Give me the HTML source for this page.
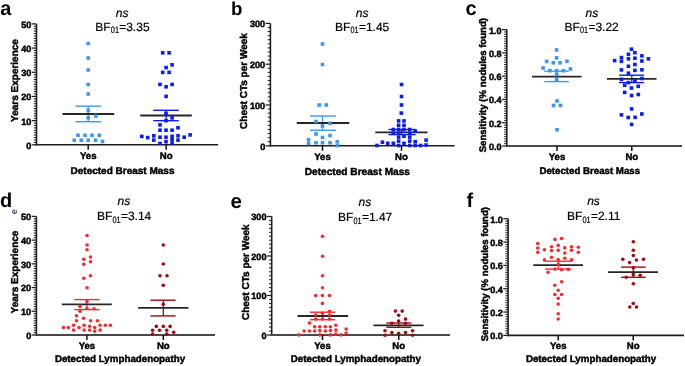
<!DOCTYPE html><html><head><meta charset="utf-8"><style>html,body{margin:0;padding:0;background:#fff;width:685px;height:366px;overflow:hidden}svg{display:block;filter:blur(0.35px)}text{font-family:"Liberation Sans",sans-serif;text-rendering:geometricPrecision;stroke-linejoin:round}</style></head><body>
<svg width="685" height="366" viewBox="0 0 685 366">
<rect width="685" height="366" fill="#fff"/>
<line x1="36.5" y1="23.9" x2="36.5" y2="145.55" stroke="#1e1e1e" stroke-width="1.6"/>
<line x1="35.7" y1="144.8" x2="218.2" y2="144.8" stroke="#1e1e1e" stroke-width="1.6"/>
<line x1="31.7" y1="144.8" x2="36.5" y2="144.8" stroke="#1e1e1e" stroke-width="1.25"/>
<line x1="33.8" y1="142.38" x2="36.5" y2="142.38" stroke="#1e1e1e" stroke-width="1.0"/>
<line x1="33.8" y1="139.96" x2="36.5" y2="139.96" stroke="#1e1e1e" stroke-width="1.0"/>
<line x1="33.8" y1="137.55" x2="36.5" y2="137.55" stroke="#1e1e1e" stroke-width="1.0"/>
<line x1="33.8" y1="135.13" x2="36.5" y2="135.13" stroke="#1e1e1e" stroke-width="1.0"/>
<line x1="33.8" y1="132.71" x2="36.5" y2="132.71" stroke="#1e1e1e" stroke-width="1.0"/>
<line x1="33.8" y1="130.29" x2="36.5" y2="130.29" stroke="#1e1e1e" stroke-width="1.0"/>
<line x1="33.8" y1="127.87" x2="36.5" y2="127.87" stroke="#1e1e1e" stroke-width="1.0"/>
<line x1="33.8" y1="125.46" x2="36.5" y2="125.46" stroke="#1e1e1e" stroke-width="1.0"/>
<line x1="33.8" y1="123.04" x2="36.5" y2="123.04" stroke="#1e1e1e" stroke-width="1.0"/>
<line x1="31.7" y1="120.62" x2="36.5" y2="120.62" stroke="#1e1e1e" stroke-width="1.25"/>
<line x1="33.8" y1="118.2" x2="36.5" y2="118.2" stroke="#1e1e1e" stroke-width="1.0"/>
<line x1="33.8" y1="115.78" x2="36.5" y2="115.78" stroke="#1e1e1e" stroke-width="1.0"/>
<line x1="33.8" y1="113.37" x2="36.5" y2="113.37" stroke="#1e1e1e" stroke-width="1.0"/>
<line x1="33.8" y1="110.95" x2="36.5" y2="110.95" stroke="#1e1e1e" stroke-width="1.0"/>
<line x1="33.8" y1="108.53" x2="36.5" y2="108.53" stroke="#1e1e1e" stroke-width="1.0"/>
<line x1="33.8" y1="106.11" x2="36.5" y2="106.11" stroke="#1e1e1e" stroke-width="1.0"/>
<line x1="33.8" y1="103.69" x2="36.5" y2="103.69" stroke="#1e1e1e" stroke-width="1.0"/>
<line x1="33.8" y1="101.28" x2="36.5" y2="101.28" stroke="#1e1e1e" stroke-width="1.0"/>
<line x1="33.8" y1="98.86" x2="36.5" y2="98.86" stroke="#1e1e1e" stroke-width="1.0"/>
<line x1="31.7" y1="96.44" x2="36.5" y2="96.44" stroke="#1e1e1e" stroke-width="1.25"/>
<line x1="33.8" y1="94.02" x2="36.5" y2="94.02" stroke="#1e1e1e" stroke-width="1.0"/>
<line x1="33.8" y1="91.6" x2="36.5" y2="91.6" stroke="#1e1e1e" stroke-width="1.0"/>
<line x1="33.8" y1="89.19" x2="36.5" y2="89.19" stroke="#1e1e1e" stroke-width="1.0"/>
<line x1="33.8" y1="86.77" x2="36.5" y2="86.77" stroke="#1e1e1e" stroke-width="1.0"/>
<line x1="33.8" y1="84.35" x2="36.5" y2="84.35" stroke="#1e1e1e" stroke-width="1.0"/>
<line x1="33.8" y1="81.93" x2="36.5" y2="81.93" stroke="#1e1e1e" stroke-width="1.0"/>
<line x1="33.8" y1="79.51" x2="36.5" y2="79.51" stroke="#1e1e1e" stroke-width="1.0"/>
<line x1="33.8" y1="77.1" x2="36.5" y2="77.1" stroke="#1e1e1e" stroke-width="1.0"/>
<line x1="33.8" y1="74.68" x2="36.5" y2="74.68" stroke="#1e1e1e" stroke-width="1.0"/>
<line x1="31.7" y1="72.26" x2="36.5" y2="72.26" stroke="#1e1e1e" stroke-width="1.25"/>
<line x1="33.8" y1="69.84" x2="36.5" y2="69.84" stroke="#1e1e1e" stroke-width="1.0"/>
<line x1="33.8" y1="67.42" x2="36.5" y2="67.42" stroke="#1e1e1e" stroke-width="1.0"/>
<line x1="33.8" y1="65.01" x2="36.5" y2="65.01" stroke="#1e1e1e" stroke-width="1.0"/>
<line x1="33.8" y1="62.59" x2="36.5" y2="62.59" stroke="#1e1e1e" stroke-width="1.0"/>
<line x1="33.8" y1="60.17" x2="36.5" y2="60.17" stroke="#1e1e1e" stroke-width="1.0"/>
<line x1="33.8" y1="57.75" x2="36.5" y2="57.75" stroke="#1e1e1e" stroke-width="1.0"/>
<line x1="33.8" y1="55.33" x2="36.5" y2="55.33" stroke="#1e1e1e" stroke-width="1.0"/>
<line x1="33.8" y1="52.92" x2="36.5" y2="52.92" stroke="#1e1e1e" stroke-width="1.0"/>
<line x1="33.8" y1="50.5" x2="36.5" y2="50.5" stroke="#1e1e1e" stroke-width="1.0"/>
<line x1="31.7" y1="48.08" x2="36.5" y2="48.08" stroke="#1e1e1e" stroke-width="1.25"/>
<line x1="33.8" y1="45.66" x2="36.5" y2="45.66" stroke="#1e1e1e" stroke-width="1.0"/>
<line x1="33.8" y1="43.24" x2="36.5" y2="43.24" stroke="#1e1e1e" stroke-width="1.0"/>
<line x1="33.8" y1="40.83" x2="36.5" y2="40.83" stroke="#1e1e1e" stroke-width="1.0"/>
<line x1="33.8" y1="38.41" x2="36.5" y2="38.41" stroke="#1e1e1e" stroke-width="1.0"/>
<line x1="33.8" y1="35.99" x2="36.5" y2="35.99" stroke="#1e1e1e" stroke-width="1.0"/>
<line x1="33.8" y1="33.57" x2="36.5" y2="33.57" stroke="#1e1e1e" stroke-width="1.0"/>
<line x1="33.8" y1="31.15" x2="36.5" y2="31.15" stroke="#1e1e1e" stroke-width="1.0"/>
<line x1="33.8" y1="28.74" x2="36.5" y2="28.74" stroke="#1e1e1e" stroke-width="1.0"/>
<line x1="33.8" y1="26.32" x2="36.5" y2="26.32" stroke="#1e1e1e" stroke-width="1.0"/>
<line x1="31.7" y1="23.9" x2="36.5" y2="23.9" stroke="#1e1e1e" stroke-width="1.25"/>
<text x="31.3" y="148.7" font-size="9.1" font-weight="bold" font-style="normal" text-anchor="end" fill="#000" stroke="#000" stroke-width="0.45" >0</text>
<text x="31.3" y="124.52" font-size="9.1" font-weight="bold" font-style="normal" text-anchor="end" fill="#000" stroke="#000" stroke-width="0.45" >10</text>
<text x="31.3" y="100.34" font-size="9.1" font-weight="bold" font-style="normal" text-anchor="end" fill="#000" stroke="#000" stroke-width="0.45" >20</text>
<text x="31.3" y="76.16" font-size="9.1" font-weight="bold" font-style="normal" text-anchor="end" fill="#000" stroke="#000" stroke-width="0.45" >30</text>
<text x="31.3" y="51.98" font-size="9.1" font-weight="bold" font-style="normal" text-anchor="end" fill="#000" stroke="#000" stroke-width="0.45" >40</text>
<text x="31.3" y="27.8" font-size="9.1" font-weight="bold" font-style="normal" text-anchor="end" fill="#000" stroke="#000" stroke-width="0.45" >50</text>
<line x1="88.2" y1="144.8" x2="88.2" y2="149.8" stroke="#111" stroke-width="1.5"/>
<line x1="166.2" y1="144.8" x2="166.2" y2="149.8" stroke="#111" stroke-width="1.5"/>
<text x="88.2" y="159" font-size="9.6" font-weight="bold" font-style="normal" text-anchor="middle" fill="#000" stroke="#000" stroke-width="0.45" >Yes</text>
<text x="166.2" y="159" font-size="9.6" font-weight="bold" font-style="normal" text-anchor="middle" fill="#000" stroke="#000" stroke-width="0.45" >No</text>
<text x="122.5" y="173.9" font-size="10.0" font-weight="bold" font-style="normal" text-anchor="middle" fill="#000" stroke="#000" stroke-width="0.45" >Detected Breast Mass</text>
<text transform="translate(17.5,80.5) rotate(-90)" font-size="10" font-weight="bold" text-anchor="middle" fill="#000" stroke="#000" stroke-width="0.45">Years Experience</text>
<text x="0.3" y="15.3" font-size="20" font-weight="bold" font-style="normal" text-anchor="start" fill="#000" >a</text>
<text x="122.2" y="16.5" font-size="12" font-weight="normal" font-style="italic" text-anchor="middle" fill="#000" stroke="#000" stroke-width="0.2" >ns</text>
<text x="95.3" y="30.8" font-size="12" font-weight="normal" fill="#000" stroke="#000" stroke-width="0.2">BF</text>
<text transform="translate(110.8,33.4) scale(0.8,1)" font-size="9.2" font-weight="normal" fill="#000" stroke="#000" stroke-width="0.2">01</text>
<text x="119.2" y="30.8" font-size="12" font-weight="normal" fill="#000" stroke="#000" stroke-width="0.2">=3.35</text>
<line x1="88.2" y1="106.15" x2="88.2" y2="121.7" stroke="#3f95f2" stroke-width="1.3"/>
<line x1="75.5" y1="106.15" x2="101" y2="106.15" stroke="#3f95f2" stroke-width="1.4"/>
<line x1="75.5" y1="121.7" x2="101" y2="121.7" stroke="#3f95f2" stroke-width="1.4"/>
<line x1="62.5" y1="114" x2="114.25" y2="114" stroke="#262626" stroke-width="1.8"/>
<line x1="166.2" y1="110.3" x2="166.2" y2="120.7" stroke="#0a1cf5" stroke-width="1.3"/>
<line x1="153.2" y1="110.3" x2="178.7" y2="110.3" stroke="#0a1cf5" stroke-width="1.4"/>
<line x1="153.2" y1="120.7" x2="178.7" y2="120.7" stroke="#0a1cf5" stroke-width="1.4"/>
<line x1="140.2" y1="115.5" x2="191.8" y2="115.5" stroke="#262626" stroke-width="1.8"/>
<rect x="86.4" y="41.7" width="3.6" height="3.6" fill="#3f95f2"/>
<rect x="86.4" y="56.2" width="3.6" height="3.6" fill="#3f95f2"/>
<rect x="86.4" y="68.2" width="3.6" height="3.6" fill="#3f95f2"/>
<rect x="86.4" y="82.7" width="3.6" height="3.6" fill="#3f95f2"/>
<rect x="86.4" y="92.2" width="3.6" height="3.6" fill="#3f95f2"/>
<rect x="86.4" y="108.7" width="3.6" height="3.6" fill="#3f95f2"/>
<rect x="86.4" y="115.95" width="3.6" height="3.6" fill="#3f95f2"/>
<rect x="93.95" y="114.2" width="3.6" height="3.6" fill="#3f95f2"/>
<rect x="76.2" y="133.45" width="3.6" height="3.6" fill="#3f95f2"/>
<rect x="83.2" y="133.45" width="3.6" height="3.6" fill="#3f95f2"/>
<rect x="90.2" y="133.45" width="3.6" height="3.6" fill="#3f95f2"/>
<rect x="97.45" y="133.45" width="3.6" height="3.6" fill="#3f95f2"/>
<rect x="72.45" y="138.45" width="3.6" height="3.6" fill="#3f95f2"/>
<rect x="79.45" y="138.45" width="3.6" height="3.6" fill="#3f95f2"/>
<rect x="86.45" y="138.45" width="3.6" height="3.6" fill="#3f95f2"/>
<rect x="93.7" y="138.45" width="3.6" height="3.6" fill="#3f95f2"/>
<rect x="100.7" y="139.7" width="3.6" height="3.6" fill="#3f95f2"/>
<rect x="160.9" y="51" width="3.6" height="3.6" fill="#0a1cf5"/>
<rect x="167.3" y="51" width="3.6" height="3.6" fill="#0a1cf5"/>
<rect x="170.3" y="63" width="3.6" height="3.6" fill="#0a1cf5"/>
<rect x="164.3" y="65.8" width="3.6" height="3.6" fill="#0a1cf5"/>
<rect x="160.9" y="70.6" width="3.6" height="3.6" fill="#0a1cf5"/>
<rect x="167.3" y="70.6" width="3.6" height="3.6" fill="#0a1cf5"/>
<rect x="158.2" y="82.6" width="3.6" height="3.6" fill="#0a1cf5"/>
<rect x="164.3" y="85" width="3.6" height="3.6" fill="#0a1cf5"/>
<rect x="170.3" y="82.6" width="3.6" height="3.6" fill="#0a1cf5"/>
<rect x="164.3" y="94.6" width="3.6" height="3.6" fill="#0a1cf5"/>
<rect x="164.2" y="111.6" width="3.6" height="3.6" fill="#0a1cf5"/>
<rect x="170.3" y="116.1" width="3.6" height="3.6" fill="#0a1cf5"/>
<rect x="164.2" y="118.9" width="3.6" height="3.6" fill="#0a1cf5"/>
<rect x="158.2" y="123.1" width="3.6" height="3.6" fill="#0a1cf5"/>
<rect x="158.2" y="128.4" width="3.6" height="3.6" fill="#0a1cf5"/>
<rect x="164.2" y="128.4" width="3.6" height="3.6" fill="#0a1cf5"/>
<rect x="170.3" y="128.4" width="3.6" height="3.6" fill="#0a1cf5"/>
<rect x="176.2" y="126" width="3.6" height="3.6" fill="#0a1cf5"/>
<rect x="140" y="134.6" width="3.6" height="3.6" fill="#0a1cf5"/>
<rect x="145.9" y="135.8" width="3.6" height="3.6" fill="#0a1cf5"/>
<rect x="152" y="134" width="3.6" height="3.6" fill="#0a1cf5"/>
<rect x="152" y="138.3" width="3.6" height="3.6" fill="#0a1cf5"/>
<rect x="158.2" y="135.4" width="3.6" height="3.6" fill="#0a1cf5"/>
<rect x="158.2" y="141.6" width="3.6" height="3.6" fill="#0a1cf5"/>
<rect x="164.2" y="135.4" width="3.6" height="3.6" fill="#0a1cf5"/>
<rect x="164.2" y="139.9" width="3.6" height="3.6" fill="#0a1cf5"/>
<rect x="170.3" y="134.5" width="3.6" height="3.6" fill="#0a1cf5"/>
<rect x="170.3" y="137.8" width="3.6" height="3.6" fill="#0a1cf5"/>
<rect x="170.3" y="141.2" width="3.6" height="3.6" fill="#0a1cf5"/>
<rect x="176.2" y="134" width="3.6" height="3.6" fill="#0a1cf5"/>
<rect x="176.2" y="138.3" width="3.6" height="3.6" fill="#0a1cf5"/>
<rect x="182.4" y="135.4" width="3.6" height="3.6" fill="#0a1cf5"/>
<rect x="188.3" y="133.1" width="3.6" height="3.6" fill="#0a1cf5"/>
<line x1="270.4" y1="23.4" x2="270.4" y2="146.55" stroke="#1e1e1e" stroke-width="1.6"/>
<line x1="269.6" y1="145.8" x2="454.6" y2="145.8" stroke="#1e1e1e" stroke-width="1.6"/>
<line x1="265.6" y1="145.8" x2="270.4" y2="145.8" stroke="#1e1e1e" stroke-width="1.25"/>
<line x1="267.7" y1="141.72" x2="270.4" y2="141.72" stroke="#1e1e1e" stroke-width="1.0"/>
<line x1="267.7" y1="137.64" x2="270.4" y2="137.64" stroke="#1e1e1e" stroke-width="1.0"/>
<line x1="267.7" y1="133.56" x2="270.4" y2="133.56" stroke="#1e1e1e" stroke-width="1.0"/>
<line x1="267.7" y1="129.48" x2="270.4" y2="129.48" stroke="#1e1e1e" stroke-width="1.0"/>
<line x1="267.7" y1="125.4" x2="270.4" y2="125.4" stroke="#1e1e1e" stroke-width="1.0"/>
<line x1="267.7" y1="121.32" x2="270.4" y2="121.32" stroke="#1e1e1e" stroke-width="1.0"/>
<line x1="267.7" y1="117.24" x2="270.4" y2="117.24" stroke="#1e1e1e" stroke-width="1.0"/>
<line x1="267.7" y1="113.16" x2="270.4" y2="113.16" stroke="#1e1e1e" stroke-width="1.0"/>
<line x1="267.7" y1="109.08" x2="270.4" y2="109.08" stroke="#1e1e1e" stroke-width="1.0"/>
<line x1="265.6" y1="105" x2="270.4" y2="105" stroke="#1e1e1e" stroke-width="1.25"/>
<line x1="267.7" y1="100.92" x2="270.4" y2="100.92" stroke="#1e1e1e" stroke-width="1.0"/>
<line x1="267.7" y1="96.84" x2="270.4" y2="96.84" stroke="#1e1e1e" stroke-width="1.0"/>
<line x1="267.7" y1="92.76" x2="270.4" y2="92.76" stroke="#1e1e1e" stroke-width="1.0"/>
<line x1="267.7" y1="88.68" x2="270.4" y2="88.68" stroke="#1e1e1e" stroke-width="1.0"/>
<line x1="267.7" y1="84.6" x2="270.4" y2="84.6" stroke="#1e1e1e" stroke-width="1.0"/>
<line x1="267.7" y1="80.52" x2="270.4" y2="80.52" stroke="#1e1e1e" stroke-width="1.0"/>
<line x1="267.7" y1="76.44" x2="270.4" y2="76.44" stroke="#1e1e1e" stroke-width="1.0"/>
<line x1="267.7" y1="72.36" x2="270.4" y2="72.36" stroke="#1e1e1e" stroke-width="1.0"/>
<line x1="267.7" y1="68.28" x2="270.4" y2="68.28" stroke="#1e1e1e" stroke-width="1.0"/>
<line x1="265.6" y1="64.2" x2="270.4" y2="64.2" stroke="#1e1e1e" stroke-width="1.25"/>
<line x1="267.7" y1="60.12" x2="270.4" y2="60.12" stroke="#1e1e1e" stroke-width="1.0"/>
<line x1="267.7" y1="56.04" x2="270.4" y2="56.04" stroke="#1e1e1e" stroke-width="1.0"/>
<line x1="267.7" y1="51.96" x2="270.4" y2="51.96" stroke="#1e1e1e" stroke-width="1.0"/>
<line x1="267.7" y1="47.88" x2="270.4" y2="47.88" stroke="#1e1e1e" stroke-width="1.0"/>
<line x1="267.7" y1="43.8" x2="270.4" y2="43.8" stroke="#1e1e1e" stroke-width="1.0"/>
<line x1="267.7" y1="39.72" x2="270.4" y2="39.72" stroke="#1e1e1e" stroke-width="1.0"/>
<line x1="267.7" y1="35.64" x2="270.4" y2="35.64" stroke="#1e1e1e" stroke-width="1.0"/>
<line x1="267.7" y1="31.56" x2="270.4" y2="31.56" stroke="#1e1e1e" stroke-width="1.0"/>
<line x1="267.7" y1="27.48" x2="270.4" y2="27.48" stroke="#1e1e1e" stroke-width="1.0"/>
<line x1="265.6" y1="23.4" x2="270.4" y2="23.4" stroke="#1e1e1e" stroke-width="1.25"/>
<text x="265.2" y="149.7" font-size="9.1" font-weight="bold" font-style="normal" text-anchor="end" fill="#000" stroke="#000" stroke-width="0.45" >0</text>
<text x="265.2" y="108.9" font-size="9.1" font-weight="bold" font-style="normal" text-anchor="end" fill="#000" stroke="#000" stroke-width="0.45" >100</text>
<text x="265.2" y="68.1" font-size="9.1" font-weight="bold" font-style="normal" text-anchor="end" fill="#000" stroke="#000" stroke-width="0.45" >200</text>
<text x="265.2" y="27.3" font-size="9.1" font-weight="bold" font-style="normal" text-anchor="end" fill="#000" stroke="#000" stroke-width="0.45" >300</text>
<line x1="322.5" y1="145.8" x2="322.5" y2="150.8" stroke="#111" stroke-width="1.5"/>
<line x1="401.5" y1="145.8" x2="401.5" y2="150.8" stroke="#111" stroke-width="1.5"/>
<text x="322.5" y="160" font-size="9.6" font-weight="bold" font-style="normal" text-anchor="middle" fill="#000" stroke="#000" stroke-width="0.45" >Yes</text>
<text x="401.5" y="160" font-size="9.6" font-weight="bold" font-style="normal" text-anchor="middle" fill="#000" stroke="#000" stroke-width="0.45" >No</text>
<text x="357.4" y="174.6" font-size="10.15" font-weight="bold" font-style="normal" text-anchor="middle" fill="#000" stroke="#000" stroke-width="0.45" >Detected Breast Mass</text>
<text transform="translate(246.5,81) rotate(-90)" font-size="10" font-weight="bold" text-anchor="middle" fill="#000" stroke="#000" stroke-width="0.45">Chest CTs per Week</text>
<text x="230.9" y="14.6" font-size="18.7" font-weight="bold" font-style="normal" text-anchor="start" fill="#000" >b</text>
<text x="362.2" y="16.5" font-size="12" font-weight="normal" font-style="italic" text-anchor="middle" fill="#000" stroke="#000" stroke-width="0.2" >ns</text>
<text x="335" y="30.8" font-size="12" font-weight="normal" fill="#000" stroke="#000" stroke-width="0.2">BF</text>
<text transform="translate(350.5,33.4) scale(0.8,1)" font-size="9.2" font-weight="normal" fill="#000" stroke="#000" stroke-width="0.2">01</text>
<text x="358.9" y="30.8" font-size="12" font-weight="normal" fill="#000" stroke="#000" stroke-width="0.2">=1.45</text>
<line x1="322.5" y1="116" x2="322.5" y2="130.25" stroke="#3f95f2" stroke-width="1.3"/>
<line x1="310" y1="116" x2="336" y2="116" stroke="#3f95f2" stroke-width="1.4"/>
<line x1="310" y1="130.25" x2="336" y2="130.25" stroke="#3f95f2" stroke-width="1.4"/>
<line x1="296.75" y1="123" x2="349.25" y2="123" stroke="#262626" stroke-width="1.8"/>
<line x1="401.5" y1="129.5" x2="401.5" y2="134.6" stroke="#0a1cf5" stroke-width="1.3"/>
<line x1="388.4" y1="129.5" x2="415.7" y2="129.5" stroke="#0a1cf5" stroke-width="1.4"/>
<line x1="388.4" y1="134.6" x2="415.7" y2="134.6" stroke="#0a1cf5" stroke-width="1.4"/>
<line x1="375.3" y1="132.4" x2="427.5" y2="132.4" stroke="#262626" stroke-width="1.8"/>
<rect x="320.7" y="42.2" width="3.6" height="3.6" fill="#3f95f2"/>
<rect x="320.7" y="62.7" width="3.6" height="3.6" fill="#3f95f2"/>
<rect x="317.45" y="103.2" width="3.6" height="3.6" fill="#3f95f2"/>
<rect x="324.45" y="103.2" width="3.6" height="3.6" fill="#3f95f2"/>
<rect x="314.2" y="119.7" width="3.6" height="3.6" fill="#3f95f2"/>
<rect x="328.2" y="121.45" width="3.6" height="3.6" fill="#3f95f2"/>
<rect x="320.7" y="124.2" width="3.6" height="3.6" fill="#3f95f2"/>
<rect x="314.2" y="132.2" width="3.6" height="3.6" fill="#3f95f2"/>
<rect x="328.2" y="133.7" width="3.6" height="3.6" fill="#3f95f2"/>
<rect x="320.7" y="135.7" width="3.6" height="3.6" fill="#3f95f2"/>
<rect x="306.7" y="137.95" width="3.6" height="3.6" fill="#3f95f2"/>
<rect x="335.45" y="139.95" width="3.6" height="3.6" fill="#3f95f2"/>
<rect x="306.7" y="141.7" width="3.6" height="3.6" fill="#3f95f2"/>
<rect x="314.2" y="140.95" width="3.6" height="3.6" fill="#3f95f2"/>
<rect x="320.7" y="140.95" width="3.6" height="3.6" fill="#3f95f2"/>
<rect x="328.2" y="140.95" width="3.6" height="3.6" fill="#3f95f2"/>
<rect x="335.45" y="143.7" width="3.6" height="3.6" fill="#3f95f2"/>
<rect x="399.7" y="82.7" width="3.6" height="3.6" fill="#0a1cf5"/>
<rect x="399.7" y="94.7" width="3.6" height="3.6" fill="#0a1cf5"/>
<rect x="399.7" y="103.2" width="3.6" height="3.6" fill="#0a1cf5"/>
<rect x="399.5" y="111.3" width="3.6" height="3.6" fill="#0a1cf5"/>
<rect x="396.8" y="119.1" width="3.6" height="3.6" fill="#0a1cf5"/>
<rect x="402.2" y="119.1" width="3.6" height="3.6" fill="#0a1cf5"/>
<rect x="396.8" y="123.5" width="3.6" height="3.6" fill="#0a1cf5"/>
<rect x="402.2" y="123.5" width="3.6" height="3.6" fill="#0a1cf5"/>
<rect x="391.5" y="127.7" width="3.6" height="3.6" fill="#0a1cf5"/>
<rect x="396.8" y="127.7" width="3.6" height="3.6" fill="#0a1cf5"/>
<rect x="402.2" y="127.7" width="3.6" height="3.6" fill="#0a1cf5"/>
<rect x="407.9" y="127.7" width="3.6" height="3.6" fill="#0a1cf5"/>
<rect x="413.4" y="129.2" width="3.6" height="3.6" fill="#0a1cf5"/>
<rect x="391.5" y="131.4" width="3.6" height="3.6" fill="#0a1cf5"/>
<rect x="396.8" y="131.4" width="3.6" height="3.6" fill="#0a1cf5"/>
<rect x="407.9" y="131.4" width="3.6" height="3.6" fill="#0a1cf5"/>
<rect x="402.2" y="134.4" width="3.6" height="3.6" fill="#0a1cf5"/>
<rect x="396.8" y="135.3" width="3.6" height="3.6" fill="#0a1cf5"/>
<rect x="407.9" y="135.3" width="3.6" height="3.6" fill="#0a1cf5"/>
<rect x="380.6" y="140.4" width="3.6" height="3.6" fill="#0a1cf5"/>
<rect x="386" y="141.5" width="3.6" height="3.6" fill="#0a1cf5"/>
<rect x="391.5" y="141.5" width="3.6" height="3.6" fill="#0a1cf5"/>
<rect x="396.8" y="139.3" width="3.6" height="3.6" fill="#0a1cf5"/>
<rect x="407.9" y="139.3" width="3.6" height="3.6" fill="#0a1cf5"/>
<rect x="413.4" y="139.9" width="3.6" height="3.6" fill="#0a1cf5"/>
<rect x="424.3" y="138.3" width="3.6" height="3.6" fill="#0a1cf5"/>
<rect x="375.1" y="143.7" width="3.6" height="3.6" fill="#0a1cf5"/>
<rect x="396.8" y="143.7" width="3.6" height="3.6" fill="#0a1cf5"/>
<rect x="402.2" y="141.5" width="3.6" height="3.6" fill="#0a1cf5"/>
<rect x="407.9" y="143.7" width="3.6" height="3.6" fill="#0a1cf5"/>
<rect x="413.4" y="143.7" width="3.6" height="3.6" fill="#0a1cf5"/>
<rect x="418.8" y="143.7" width="3.6" height="3.6" fill="#0a1cf5"/>
<rect x="424.3" y="143.2" width="3.6" height="3.6" fill="#0a1cf5"/>
<line x1="506.8" y1="29.6" x2="506.8" y2="146.75" stroke="#1e1e1e" stroke-width="1.6"/>
<line x1="506" y1="146" x2="682" y2="146" stroke="#4a4a4a" stroke-width="1.9"/>
<line x1="502" y1="146" x2="506.8" y2="146" stroke="#1e1e1e" stroke-width="1.25"/>
<line x1="504.1" y1="143.67" x2="506.8" y2="143.67" stroke="#1e1e1e" stroke-width="1.0"/>
<line x1="504.1" y1="141.34" x2="506.8" y2="141.34" stroke="#1e1e1e" stroke-width="1.0"/>
<line x1="504.1" y1="139.02" x2="506.8" y2="139.02" stroke="#1e1e1e" stroke-width="1.0"/>
<line x1="504.1" y1="136.69" x2="506.8" y2="136.69" stroke="#1e1e1e" stroke-width="1.0"/>
<line x1="504.1" y1="134.36" x2="506.8" y2="134.36" stroke="#1e1e1e" stroke-width="1.0"/>
<line x1="504.1" y1="132.03" x2="506.8" y2="132.03" stroke="#1e1e1e" stroke-width="1.0"/>
<line x1="504.1" y1="129.7" x2="506.8" y2="129.7" stroke="#1e1e1e" stroke-width="1.0"/>
<line x1="504.1" y1="127.38" x2="506.8" y2="127.38" stroke="#1e1e1e" stroke-width="1.0"/>
<line x1="504.1" y1="125.05" x2="506.8" y2="125.05" stroke="#1e1e1e" stroke-width="1.0"/>
<line x1="502" y1="122.72" x2="506.8" y2="122.72" stroke="#1e1e1e" stroke-width="1.25"/>
<line x1="504.1" y1="120.39" x2="506.8" y2="120.39" stroke="#1e1e1e" stroke-width="1.0"/>
<line x1="504.1" y1="118.06" x2="506.8" y2="118.06" stroke="#1e1e1e" stroke-width="1.0"/>
<line x1="504.1" y1="115.74" x2="506.8" y2="115.74" stroke="#1e1e1e" stroke-width="1.0"/>
<line x1="504.1" y1="113.41" x2="506.8" y2="113.41" stroke="#1e1e1e" stroke-width="1.0"/>
<line x1="504.1" y1="111.08" x2="506.8" y2="111.08" stroke="#1e1e1e" stroke-width="1.0"/>
<line x1="504.1" y1="108.75" x2="506.8" y2="108.75" stroke="#1e1e1e" stroke-width="1.0"/>
<line x1="504.1" y1="106.42" x2="506.8" y2="106.42" stroke="#1e1e1e" stroke-width="1.0"/>
<line x1="504.1" y1="104.1" x2="506.8" y2="104.1" stroke="#1e1e1e" stroke-width="1.0"/>
<line x1="504.1" y1="101.77" x2="506.8" y2="101.77" stroke="#1e1e1e" stroke-width="1.0"/>
<line x1="502" y1="99.44" x2="506.8" y2="99.44" stroke="#1e1e1e" stroke-width="1.25"/>
<line x1="504.1" y1="97.11" x2="506.8" y2="97.11" stroke="#1e1e1e" stroke-width="1.0"/>
<line x1="504.1" y1="94.78" x2="506.8" y2="94.78" stroke="#1e1e1e" stroke-width="1.0"/>
<line x1="504.1" y1="92.46" x2="506.8" y2="92.46" stroke="#1e1e1e" stroke-width="1.0"/>
<line x1="504.1" y1="90.13" x2="506.8" y2="90.13" stroke="#1e1e1e" stroke-width="1.0"/>
<line x1="504.1" y1="87.8" x2="506.8" y2="87.8" stroke="#1e1e1e" stroke-width="1.0"/>
<line x1="504.1" y1="85.47" x2="506.8" y2="85.47" stroke="#1e1e1e" stroke-width="1.0"/>
<line x1="504.1" y1="83.14" x2="506.8" y2="83.14" stroke="#1e1e1e" stroke-width="1.0"/>
<line x1="504.1" y1="80.82" x2="506.8" y2="80.82" stroke="#1e1e1e" stroke-width="1.0"/>
<line x1="504.1" y1="78.49" x2="506.8" y2="78.49" stroke="#1e1e1e" stroke-width="1.0"/>
<line x1="502" y1="76.16" x2="506.8" y2="76.16" stroke="#1e1e1e" stroke-width="1.25"/>
<line x1="504.1" y1="73.83" x2="506.8" y2="73.83" stroke="#1e1e1e" stroke-width="1.0"/>
<line x1="504.1" y1="71.5" x2="506.8" y2="71.5" stroke="#1e1e1e" stroke-width="1.0"/>
<line x1="504.1" y1="69.18" x2="506.8" y2="69.18" stroke="#1e1e1e" stroke-width="1.0"/>
<line x1="504.1" y1="66.85" x2="506.8" y2="66.85" stroke="#1e1e1e" stroke-width="1.0"/>
<line x1="504.1" y1="64.52" x2="506.8" y2="64.52" stroke="#1e1e1e" stroke-width="1.0"/>
<line x1="504.1" y1="62.19" x2="506.8" y2="62.19" stroke="#1e1e1e" stroke-width="1.0"/>
<line x1="504.1" y1="59.86" x2="506.8" y2="59.86" stroke="#1e1e1e" stroke-width="1.0"/>
<line x1="504.1" y1="57.54" x2="506.8" y2="57.54" stroke="#1e1e1e" stroke-width="1.0"/>
<line x1="504.1" y1="55.21" x2="506.8" y2="55.21" stroke="#1e1e1e" stroke-width="1.0"/>
<line x1="502" y1="52.88" x2="506.8" y2="52.88" stroke="#1e1e1e" stroke-width="1.25"/>
<line x1="504.1" y1="50.55" x2="506.8" y2="50.55" stroke="#1e1e1e" stroke-width="1.0"/>
<line x1="504.1" y1="48.22" x2="506.8" y2="48.22" stroke="#1e1e1e" stroke-width="1.0"/>
<line x1="504.1" y1="45.9" x2="506.8" y2="45.9" stroke="#1e1e1e" stroke-width="1.0"/>
<line x1="504.1" y1="43.57" x2="506.8" y2="43.57" stroke="#1e1e1e" stroke-width="1.0"/>
<line x1="504.1" y1="41.24" x2="506.8" y2="41.24" stroke="#1e1e1e" stroke-width="1.0"/>
<line x1="504.1" y1="38.91" x2="506.8" y2="38.91" stroke="#1e1e1e" stroke-width="1.0"/>
<line x1="504.1" y1="36.58" x2="506.8" y2="36.58" stroke="#1e1e1e" stroke-width="1.0"/>
<line x1="504.1" y1="34.26" x2="506.8" y2="34.26" stroke="#1e1e1e" stroke-width="1.0"/>
<line x1="504.1" y1="31.93" x2="506.8" y2="31.93" stroke="#1e1e1e" stroke-width="1.0"/>
<line x1="502" y1="29.6" x2="506.8" y2="29.6" stroke="#1e1e1e" stroke-width="1.25"/>
<text x="501.6" y="149.9" font-size="9.1" font-weight="bold" font-style="normal" text-anchor="end" fill="#000" stroke="#000" stroke-width="0.45" >0.0</text>
<text x="501.6" y="126.62" font-size="9.1" font-weight="bold" font-style="normal" text-anchor="end" fill="#000" stroke="#000" stroke-width="0.45" >0.2</text>
<text x="501.6" y="103.34" font-size="9.1" font-weight="bold" font-style="normal" text-anchor="end" fill="#000" stroke="#000" stroke-width="0.45" >0.4</text>
<text x="501.6" y="80.06" font-size="9.1" font-weight="bold" font-style="normal" text-anchor="end" fill="#000" stroke="#000" stroke-width="0.45" >0.6</text>
<text x="501.6" y="56.78" font-size="9.1" font-weight="bold" font-style="normal" text-anchor="end" fill="#000" stroke="#000" stroke-width="0.45" >0.8</text>
<text x="501.6" y="33.5" font-size="9.1" font-weight="bold" font-style="normal" text-anchor="end" fill="#000" stroke="#000" stroke-width="0.45" >1.0</text>
<line x1="557" y1="146" x2="557" y2="151" stroke="#111" stroke-width="1.5"/>
<line x1="631.8" y1="146" x2="631.8" y2="151" stroke="#111" stroke-width="1.5"/>
<text x="557" y="160" font-size="9.6" font-weight="bold" font-style="normal" text-anchor="middle" fill="#000" stroke="#000" stroke-width="0.45" >Yes</text>
<text x="631.8" y="160" font-size="9.6" font-weight="bold" font-style="normal" text-anchor="middle" fill="#000" stroke="#000" stroke-width="0.45" >No</text>
<text x="589.75" y="173.9" font-size="9.7" font-weight="bold" font-style="normal" text-anchor="middle" fill="#000" stroke="#000" stroke-width="0.45" >Detected Breast Mass</text>
<text transform="translate(486.2,85.2) rotate(-90)" font-size="9.6" font-weight="bold" text-anchor="middle" fill="#000" stroke="#000" stroke-width="0.45">Sensitivity (% nodules found)</text>
<text x="465.5" y="15.2" font-size="20" font-weight="bold" font-style="normal" text-anchor="start" fill="#000" >c</text>
<text x="591.8" y="16.5" font-size="12" font-weight="normal" font-style="italic" text-anchor="middle" fill="#000" stroke="#000" stroke-width="0.2" >ns</text>
<text x="564.5" y="30.8" font-size="12" font-weight="normal" fill="#000" stroke="#000" stroke-width="0.2">BF</text>
<text transform="translate(580,33.4) scale(0.8,1)" font-size="9.2" font-weight="normal" fill="#000" stroke="#000" stroke-width="0.2">01</text>
<text x="588.4" y="30.8" font-size="12" font-weight="normal" fill="#000" stroke="#000" stroke-width="0.2">=3.22</text>
<line x1="557" y1="71.2" x2="557" y2="81.6" stroke="#3f95f2" stroke-width="1.3"/>
<line x1="544.2" y1="71.2" x2="568.8" y2="71.2" stroke="#3f95f2" stroke-width="1.4"/>
<line x1="544.2" y1="81.6" x2="568.8" y2="81.6" stroke="#3f95f2" stroke-width="1.4"/>
<line x1="532" y1="76.7" x2="581.6" y2="76.7" stroke="#262626" stroke-width="1.8"/>
<line x1="631.8" y1="75.2" x2="631.8" y2="82.6" stroke="#0a1cf5" stroke-width="1.3"/>
<line x1="619" y1="75.2" x2="644" y2="75.2" stroke="#0a1cf5" stroke-width="1.4"/>
<line x1="619" y1="82.6" x2="644" y2="82.6" stroke="#0a1cf5" stroke-width="1.4"/>
<line x1="607" y1="78.9" x2="656.5" y2="78.9" stroke="#262626" stroke-width="1.8"/>
<rect x="554.8" y="48.1" width="3.6" height="3.6" fill="#3f95f2"/>
<rect x="554.8" y="56" width="3.6" height="3.6" fill="#3f95f2"/>
<rect x="544.8" y="59.6" width="3.6" height="3.6" fill="#3f95f2"/>
<rect x="551.5" y="61" width="3.6" height="3.6" fill="#3f95f2"/>
<rect x="558.3" y="61" width="3.6" height="3.6" fill="#3f95f2"/>
<rect x="565.1" y="59.4" width="3.6" height="3.6" fill="#3f95f2"/>
<rect x="541.3" y="66.2" width="3.6" height="3.6" fill="#3f95f2"/>
<rect x="568.6" y="67.2" width="3.6" height="3.6" fill="#3f95f2"/>
<rect x="548.1" y="68.9" width="3.6" height="3.6" fill="#3f95f2"/>
<rect x="554.8" y="68.9" width="3.6" height="3.6" fill="#3f95f2"/>
<rect x="561.5" y="68.9" width="3.6" height="3.6" fill="#3f95f2"/>
<rect x="554.8" y="72.7" width="3.6" height="3.6" fill="#3f95f2"/>
<rect x="554.8" y="78" width="3.6" height="3.6" fill="#3f95f2"/>
<rect x="555.2" y="99.2" width="3.6" height="3.6" fill="#3f95f2"/>
<rect x="551.7" y="103.7" width="3.6" height="3.6" fill="#3f95f2"/>
<rect x="558.7" y="103.7" width="3.6" height="3.6" fill="#3f95f2"/>
<rect x="555.2" y="127.95" width="3.6" height="3.6" fill="#3f95f2"/>
<rect x="629.6" y="47.4" width="3.6" height="3.6" fill="#0a1cf5"/>
<rect x="633.1" y="50.9" width="3.6" height="3.6" fill="#0a1cf5"/>
<rect x="626.6" y="52.5" width="3.6" height="3.6" fill="#0a1cf5"/>
<rect x="640.1" y="54.1" width="3.6" height="3.6" fill="#0a1cf5"/>
<rect x="619.6" y="55.8" width="3.6" height="3.6" fill="#0a1cf5"/>
<rect x="633.1" y="56.4" width="3.6" height="3.6" fill="#0a1cf5"/>
<rect x="626.6" y="57" width="3.6" height="3.6" fill="#0a1cf5"/>
<rect x="646.6" y="57" width="3.6" height="3.6" fill="#0a1cf5"/>
<rect x="612.8" y="58.8" width="3.6" height="3.6" fill="#0a1cf5"/>
<rect x="640.1" y="59.2" width="3.6" height="3.6" fill="#0a1cf5"/>
<rect x="619.6" y="59.5" width="3.6" height="3.6" fill="#0a1cf5"/>
<rect x="633.1" y="62.7" width="3.6" height="3.6" fill="#0a1cf5"/>
<rect x="626.6" y="64.5" width="3.6" height="3.6" fill="#0a1cf5"/>
<rect x="619.6" y="68.1" width="3.6" height="3.6" fill="#0a1cf5"/>
<rect x="633.1" y="68.6" width="3.6" height="3.6" fill="#0a1cf5"/>
<rect x="640.1" y="68" width="3.6" height="3.6" fill="#0a1cf5"/>
<rect x="626.6" y="71.4" width="3.6" height="3.6" fill="#0a1cf5"/>
<rect x="619.6" y="77.5" width="3.6" height="3.6" fill="#0a1cf5"/>
<rect x="633.1" y="78.8" width="3.6" height="3.6" fill="#0a1cf5"/>
<rect x="640.1" y="76.7" width="3.6" height="3.6" fill="#0a1cf5"/>
<rect x="626.6" y="80.8" width="3.6" height="3.6" fill="#0a1cf5"/>
<rect x="622.9" y="83.5" width="3.6" height="3.6" fill="#0a1cf5"/>
<rect x="629.6" y="86.2" width="3.6" height="3.6" fill="#0a1cf5"/>
<rect x="636.4" y="84.5" width="3.6" height="3.6" fill="#0a1cf5"/>
<rect x="622.9" y="90.6" width="3.6" height="3.6" fill="#0a1cf5"/>
<rect x="629.8" y="93.7" width="3.6" height="3.6" fill="#0a1cf5"/>
<rect x="636.5" y="92.7" width="3.6" height="3.6" fill="#0a1cf5"/>
<rect x="629.8" y="107.1" width="3.6" height="3.6" fill="#0a1cf5"/>
<rect x="619.6" y="113.1" width="3.6" height="3.6" fill="#0a1cf5"/>
<rect x="626.4" y="115.7" width="3.6" height="3.6" fill="#0a1cf5"/>
<rect x="633.3" y="115.5" width="3.6" height="3.6" fill="#0a1cf5"/>
<rect x="640" y="112.2" width="3.6" height="3.6" fill="#0a1cf5"/>
<rect x="629.8" y="122.6" width="3.6" height="3.6" fill="#0a1cf5"/>
<line x1="36.4" y1="216.4" x2="36.4" y2="335.75" stroke="#1e1e1e" stroke-width="1.6"/>
<line x1="35.6" y1="335" x2="215" y2="335" stroke="#484848" stroke-width="1.9"/>
<line x1="31.6" y1="335" x2="36.4" y2="335" stroke="#1e1e1e" stroke-width="1.25"/>
<line x1="33.7" y1="332.63" x2="36.4" y2="332.63" stroke="#1e1e1e" stroke-width="1.0"/>
<line x1="33.7" y1="330.26" x2="36.4" y2="330.26" stroke="#1e1e1e" stroke-width="1.0"/>
<line x1="33.7" y1="327.88" x2="36.4" y2="327.88" stroke="#1e1e1e" stroke-width="1.0"/>
<line x1="33.7" y1="325.51" x2="36.4" y2="325.51" stroke="#1e1e1e" stroke-width="1.0"/>
<line x1="33.7" y1="323.14" x2="36.4" y2="323.14" stroke="#1e1e1e" stroke-width="1.0"/>
<line x1="33.7" y1="320.77" x2="36.4" y2="320.77" stroke="#1e1e1e" stroke-width="1.0"/>
<line x1="33.7" y1="318.4" x2="36.4" y2="318.4" stroke="#1e1e1e" stroke-width="1.0"/>
<line x1="33.7" y1="316.02" x2="36.4" y2="316.02" stroke="#1e1e1e" stroke-width="1.0"/>
<line x1="33.7" y1="313.65" x2="36.4" y2="313.65" stroke="#1e1e1e" stroke-width="1.0"/>
<line x1="31.6" y1="311.28" x2="36.4" y2="311.28" stroke="#1e1e1e" stroke-width="1.25"/>
<line x1="33.7" y1="308.91" x2="36.4" y2="308.91" stroke="#1e1e1e" stroke-width="1.0"/>
<line x1="33.7" y1="306.54" x2="36.4" y2="306.54" stroke="#1e1e1e" stroke-width="1.0"/>
<line x1="33.7" y1="304.16" x2="36.4" y2="304.16" stroke="#1e1e1e" stroke-width="1.0"/>
<line x1="33.7" y1="301.79" x2="36.4" y2="301.79" stroke="#1e1e1e" stroke-width="1.0"/>
<line x1="33.7" y1="299.42" x2="36.4" y2="299.42" stroke="#1e1e1e" stroke-width="1.0"/>
<line x1="33.7" y1="297.05" x2="36.4" y2="297.05" stroke="#1e1e1e" stroke-width="1.0"/>
<line x1="33.7" y1="294.68" x2="36.4" y2="294.68" stroke="#1e1e1e" stroke-width="1.0"/>
<line x1="33.7" y1="292.3" x2="36.4" y2="292.3" stroke="#1e1e1e" stroke-width="1.0"/>
<line x1="33.7" y1="289.93" x2="36.4" y2="289.93" stroke="#1e1e1e" stroke-width="1.0"/>
<line x1="31.6" y1="287.56" x2="36.4" y2="287.56" stroke="#1e1e1e" stroke-width="1.25"/>
<line x1="33.7" y1="285.19" x2="36.4" y2="285.19" stroke="#1e1e1e" stroke-width="1.0"/>
<line x1="33.7" y1="282.82" x2="36.4" y2="282.82" stroke="#1e1e1e" stroke-width="1.0"/>
<line x1="33.7" y1="280.44" x2="36.4" y2="280.44" stroke="#1e1e1e" stroke-width="1.0"/>
<line x1="33.7" y1="278.07" x2="36.4" y2="278.07" stroke="#1e1e1e" stroke-width="1.0"/>
<line x1="33.7" y1="275.7" x2="36.4" y2="275.7" stroke="#1e1e1e" stroke-width="1.0"/>
<line x1="33.7" y1="273.33" x2="36.4" y2="273.33" stroke="#1e1e1e" stroke-width="1.0"/>
<line x1="33.7" y1="270.96" x2="36.4" y2="270.96" stroke="#1e1e1e" stroke-width="1.0"/>
<line x1="33.7" y1="268.58" x2="36.4" y2="268.58" stroke="#1e1e1e" stroke-width="1.0"/>
<line x1="33.7" y1="266.21" x2="36.4" y2="266.21" stroke="#1e1e1e" stroke-width="1.0"/>
<line x1="31.6" y1="263.84" x2="36.4" y2="263.84" stroke="#1e1e1e" stroke-width="1.25"/>
<line x1="33.7" y1="261.47" x2="36.4" y2="261.47" stroke="#1e1e1e" stroke-width="1.0"/>
<line x1="33.7" y1="259.1" x2="36.4" y2="259.1" stroke="#1e1e1e" stroke-width="1.0"/>
<line x1="33.7" y1="256.72" x2="36.4" y2="256.72" stroke="#1e1e1e" stroke-width="1.0"/>
<line x1="33.7" y1="254.35" x2="36.4" y2="254.35" stroke="#1e1e1e" stroke-width="1.0"/>
<line x1="33.7" y1="251.98" x2="36.4" y2="251.98" stroke="#1e1e1e" stroke-width="1.0"/>
<line x1="33.7" y1="249.61" x2="36.4" y2="249.61" stroke="#1e1e1e" stroke-width="1.0"/>
<line x1="33.7" y1="247.24" x2="36.4" y2="247.24" stroke="#1e1e1e" stroke-width="1.0"/>
<line x1="33.7" y1="244.86" x2="36.4" y2="244.86" stroke="#1e1e1e" stroke-width="1.0"/>
<line x1="33.7" y1="242.49" x2="36.4" y2="242.49" stroke="#1e1e1e" stroke-width="1.0"/>
<line x1="31.6" y1="240.12" x2="36.4" y2="240.12" stroke="#1e1e1e" stroke-width="1.25"/>
<line x1="33.7" y1="237.75" x2="36.4" y2="237.75" stroke="#1e1e1e" stroke-width="1.0"/>
<line x1="33.7" y1="235.38" x2="36.4" y2="235.38" stroke="#1e1e1e" stroke-width="1.0"/>
<line x1="33.7" y1="233" x2="36.4" y2="233" stroke="#1e1e1e" stroke-width="1.0"/>
<line x1="33.7" y1="230.63" x2="36.4" y2="230.63" stroke="#1e1e1e" stroke-width="1.0"/>
<line x1="33.7" y1="228.26" x2="36.4" y2="228.26" stroke="#1e1e1e" stroke-width="1.0"/>
<line x1="33.7" y1="225.89" x2="36.4" y2="225.89" stroke="#1e1e1e" stroke-width="1.0"/>
<line x1="33.7" y1="223.52" x2="36.4" y2="223.52" stroke="#1e1e1e" stroke-width="1.0"/>
<line x1="33.7" y1="221.14" x2="36.4" y2="221.14" stroke="#1e1e1e" stroke-width="1.0"/>
<line x1="33.7" y1="218.77" x2="36.4" y2="218.77" stroke="#1e1e1e" stroke-width="1.0"/>
<line x1="31.6" y1="216.4" x2="36.4" y2="216.4" stroke="#1e1e1e" stroke-width="1.25"/>
<text x="31.2" y="338.9" font-size="9.1" font-weight="bold" font-style="normal" text-anchor="end" fill="#000" stroke="#000" stroke-width="0.45" >0</text>
<text x="31.2" y="315.18" font-size="9.1" font-weight="bold" font-style="normal" text-anchor="end" fill="#000" stroke="#000" stroke-width="0.45" >10</text>
<text x="31.2" y="291.46" font-size="9.1" font-weight="bold" font-style="normal" text-anchor="end" fill="#000" stroke="#000" stroke-width="0.45" >20</text>
<text x="31.2" y="267.74" font-size="9.1" font-weight="bold" font-style="normal" text-anchor="end" fill="#000" stroke="#000" stroke-width="0.45" >30</text>
<text x="31.2" y="244.02" font-size="9.1" font-weight="bold" font-style="normal" text-anchor="end" fill="#000" stroke="#000" stroke-width="0.45" >40</text>
<text x="31.2" y="220.3" font-size="9.1" font-weight="bold" font-style="normal" text-anchor="end" fill="#000" stroke="#000" stroke-width="0.45" >50</text>
<line x1="86.9" y1="335" x2="86.9" y2="340" stroke="#111" stroke-width="1.5"/>
<line x1="163.3" y1="335" x2="163.3" y2="340" stroke="#111" stroke-width="1.5"/>
<text x="86.9" y="349" font-size="9.6" font-weight="bold" font-style="normal" text-anchor="middle" fill="#000" stroke="#000" stroke-width="0.45" >Yes</text>
<text x="163.3" y="349" font-size="9.6" font-weight="bold" font-style="normal" text-anchor="middle" fill="#000" stroke="#000" stroke-width="0.45" >No</text>
<text x="120" y="362.2" font-size="9.75" font-weight="bold" font-style="normal" text-anchor="middle" fill="#000" stroke="#000" stroke-width="0.45" >Detected Lymphadenopathy</text>
<text transform="translate(17.5,272) rotate(-90)" font-size="10" font-weight="bold" text-anchor="middle" fill="#000" stroke="#000" stroke-width="0.45">Years Experience</text>
<text x="0.1" y="207" font-size="20" font-weight="bold" font-style="normal" text-anchor="start" fill="#000" >d</text>
<text x="123.8" y="205" font-size="12" font-weight="normal" font-style="italic" text-anchor="middle" fill="#000" stroke="#000" stroke-width="0.2" >ns</text>
<text x="97" y="220" font-size="12" font-weight="normal" fill="#000" stroke="#000" stroke-width="0.2">BF</text>
<text transform="translate(112.5,222.6) scale(0.8,1)" font-size="9.2" font-weight="normal" fill="#000" stroke="#000" stroke-width="0.2">01</text>
<text x="120.9" y="220" font-size="12" font-weight="normal" fill="#000" stroke="#000" stroke-width="0.2">=3.14</text>
<line x1="86.9" y1="299.6" x2="86.9" y2="309.6" stroke="#f82a30" stroke-width="1.3"/>
<line x1="74.2" y1="299.6" x2="99.5" y2="299.6" stroke="#f82a30" stroke-width="1.4"/>
<line x1="74.2" y1="309.6" x2="99.5" y2="309.6" stroke="#f82a30" stroke-width="1.4"/>
<line x1="61.8" y1="304.4" x2="111.8" y2="304.4" stroke="#262626" stroke-width="1.8"/>
<line x1="163.3" y1="300.2" x2="163.3" y2="315.9" stroke="#a3080e" stroke-width="1.3"/>
<line x1="150.4" y1="300.2" x2="175.6" y2="300.2" stroke="#a3080e" stroke-width="1.4"/>
<line x1="150.4" y1="315.9" x2="175.6" y2="315.9" stroke="#a3080e" stroke-width="1.4"/>
<line x1="138.1" y1="307.9" x2="188.5" y2="307.9" stroke="#262626" stroke-width="1.8"/>
<circle cx="87" cy="235.5" r="1.8" fill="#f82a30"/>
<circle cx="87" cy="245" r="1.8" fill="#f82a30"/>
<circle cx="87" cy="249.75" r="1.8" fill="#f82a30"/>
<circle cx="83.75" cy="259.25" r="1.8" fill="#f82a30"/>
<circle cx="90.5" cy="257" r="1.8" fill="#f82a30"/>
<circle cx="83.75" cy="264.25" r="1.8" fill="#f82a30"/>
<circle cx="90.5" cy="261.75" r="1.8" fill="#f82a30"/>
<circle cx="83.75" cy="278.25" r="1.8" fill="#f82a30"/>
<circle cx="90.5" cy="275.75" r="1.8" fill="#f82a30"/>
<circle cx="87" cy="287.75" r="1.8" fill="#f82a30"/>
<circle cx="86.9" cy="301.6" r="1.8" fill="#f82a30"/>
<circle cx="80" cy="306.4" r="1.8" fill="#f82a30"/>
<circle cx="86.9" cy="308.5" r="1.8" fill="#f82a30"/>
<circle cx="94" cy="308.7" r="1.8" fill="#f82a30"/>
<circle cx="80" cy="311.2" r="1.8" fill="#f82a30"/>
<circle cx="76.5" cy="315.7" r="1.8" fill="#f82a30"/>
<circle cx="83.5" cy="318.3" r="1.8" fill="#f82a30"/>
<circle cx="76.5" cy="320.8" r="1.8" fill="#f82a30"/>
<circle cx="90.6" cy="320.8" r="1.8" fill="#f82a30"/>
<circle cx="97.4" cy="320.8" r="1.8" fill="#f82a30"/>
<circle cx="73.5" cy="325.3" r="1.8" fill="#f82a30"/>
<circle cx="84.1" cy="325.3" r="1.8" fill="#f82a30"/>
<circle cx="89.6" cy="326.3" r="1.8" fill="#f82a30"/>
<circle cx="100.1" cy="325.3" r="1.8" fill="#f82a30"/>
<circle cx="105.3" cy="325.3" r="1.8" fill="#f82a30"/>
<circle cx="110.4" cy="325.3" r="1.8" fill="#f82a30"/>
<circle cx="63.5" cy="327.6" r="1.8" fill="#f82a30"/>
<circle cx="68.4" cy="327.6" r="1.8" fill="#f82a30"/>
<circle cx="79" cy="327.6" r="1.8" fill="#f82a30"/>
<circle cx="94.7" cy="327.6" r="1.8" fill="#f82a30"/>
<circle cx="73.5" cy="330.1" r="1.8" fill="#f82a30"/>
<circle cx="84.1" cy="330.1" r="1.8" fill="#f82a30"/>
<circle cx="89.6" cy="330.1" r="1.8" fill="#f82a30"/>
<circle cx="94.7" cy="331.3" r="1.8" fill="#f82a30"/>
<circle cx="100.1" cy="330.1" r="1.8" fill="#f82a30"/>
<circle cx="163.25" cy="245" r="1.8" fill="#a3080e"/>
<circle cx="163.25" cy="264" r="1.8" fill="#a3080e"/>
<circle cx="160" cy="275.75" r="1.8" fill="#a3080e"/>
<circle cx="167" cy="275.75" r="1.8" fill="#a3080e"/>
<circle cx="163.25" cy="285.25" r="1.8" fill="#a3080e"/>
<circle cx="163.3" cy="304.2" r="1.8" fill="#a3080e"/>
<circle cx="156.3" cy="326.4" r="1.8" fill="#a3080e"/>
<circle cx="163.3" cy="326.4" r="1.8" fill="#a3080e"/>
<circle cx="170.1" cy="326.4" r="1.8" fill="#a3080e"/>
<circle cx="152.6" cy="330.3" r="1.8" fill="#a3080e"/>
<circle cx="159.6" cy="330.3" r="1.8" fill="#a3080e"/>
<circle cx="166.7" cy="330.3" r="1.8" fill="#a3080e"/>
<circle cx="152.6" cy="334.1" r="1.8" fill="#a3080e"/>
<circle cx="166.7" cy="334.1" r="1.8" fill="#a3080e"/>
<circle cx="173.7" cy="332.3" r="1.8" fill="#a3080e"/>
<line x1="271.7" y1="216.5" x2="271.7" y2="335.75" stroke="#1e1e1e" stroke-width="1.6"/>
<line x1="270.9" y1="335" x2="450" y2="335" stroke="#4a4a4a" stroke-width="1.9"/>
<line x1="266.9" y1="335" x2="271.7" y2="335" stroke="#1e1e1e" stroke-width="1.25"/>
<line x1="269" y1="331.05" x2="271.7" y2="331.05" stroke="#1e1e1e" stroke-width="1.0"/>
<line x1="269" y1="327.1" x2="271.7" y2="327.1" stroke="#1e1e1e" stroke-width="1.0"/>
<line x1="269" y1="323.15" x2="271.7" y2="323.15" stroke="#1e1e1e" stroke-width="1.0"/>
<line x1="269" y1="319.2" x2="271.7" y2="319.2" stroke="#1e1e1e" stroke-width="1.0"/>
<line x1="269" y1="315.25" x2="271.7" y2="315.25" stroke="#1e1e1e" stroke-width="1.0"/>
<line x1="269" y1="311.3" x2="271.7" y2="311.3" stroke="#1e1e1e" stroke-width="1.0"/>
<line x1="269" y1="307.35" x2="271.7" y2="307.35" stroke="#1e1e1e" stroke-width="1.0"/>
<line x1="269" y1="303.4" x2="271.7" y2="303.4" stroke="#1e1e1e" stroke-width="1.0"/>
<line x1="269" y1="299.45" x2="271.7" y2="299.45" stroke="#1e1e1e" stroke-width="1.0"/>
<line x1="266.9" y1="295.5" x2="271.7" y2="295.5" stroke="#1e1e1e" stroke-width="1.25"/>
<line x1="269" y1="291.55" x2="271.7" y2="291.55" stroke="#1e1e1e" stroke-width="1.0"/>
<line x1="269" y1="287.6" x2="271.7" y2="287.6" stroke="#1e1e1e" stroke-width="1.0"/>
<line x1="269" y1="283.65" x2="271.7" y2="283.65" stroke="#1e1e1e" stroke-width="1.0"/>
<line x1="269" y1="279.7" x2="271.7" y2="279.7" stroke="#1e1e1e" stroke-width="1.0"/>
<line x1="269" y1="275.75" x2="271.7" y2="275.75" stroke="#1e1e1e" stroke-width="1.0"/>
<line x1="269" y1="271.8" x2="271.7" y2="271.8" stroke="#1e1e1e" stroke-width="1.0"/>
<line x1="269" y1="267.85" x2="271.7" y2="267.85" stroke="#1e1e1e" stroke-width="1.0"/>
<line x1="269" y1="263.9" x2="271.7" y2="263.9" stroke="#1e1e1e" stroke-width="1.0"/>
<line x1="269" y1="259.95" x2="271.7" y2="259.95" stroke="#1e1e1e" stroke-width="1.0"/>
<line x1="266.9" y1="256" x2="271.7" y2="256" stroke="#1e1e1e" stroke-width="1.25"/>
<line x1="269" y1="252.05" x2="271.7" y2="252.05" stroke="#1e1e1e" stroke-width="1.0"/>
<line x1="269" y1="248.1" x2="271.7" y2="248.1" stroke="#1e1e1e" stroke-width="1.0"/>
<line x1="269" y1="244.15" x2="271.7" y2="244.15" stroke="#1e1e1e" stroke-width="1.0"/>
<line x1="269" y1="240.2" x2="271.7" y2="240.2" stroke="#1e1e1e" stroke-width="1.0"/>
<line x1="269" y1="236.25" x2="271.7" y2="236.25" stroke="#1e1e1e" stroke-width="1.0"/>
<line x1="269" y1="232.3" x2="271.7" y2="232.3" stroke="#1e1e1e" stroke-width="1.0"/>
<line x1="269" y1="228.35" x2="271.7" y2="228.35" stroke="#1e1e1e" stroke-width="1.0"/>
<line x1="269" y1="224.4" x2="271.7" y2="224.4" stroke="#1e1e1e" stroke-width="1.0"/>
<line x1="269" y1="220.45" x2="271.7" y2="220.45" stroke="#1e1e1e" stroke-width="1.0"/>
<line x1="266.9" y1="216.5" x2="271.7" y2="216.5" stroke="#1e1e1e" stroke-width="1.25"/>
<text x="266.5" y="338.9" font-size="9.1" font-weight="bold" font-style="normal" text-anchor="end" fill="#000" stroke="#000" stroke-width="0.45" >0</text>
<text x="266.5" y="299.4" font-size="9.1" font-weight="bold" font-style="normal" text-anchor="end" fill="#000" stroke="#000" stroke-width="0.45" >100</text>
<text x="266.5" y="259.9" font-size="9.1" font-weight="bold" font-style="normal" text-anchor="end" fill="#000" stroke="#000" stroke-width="0.45" >200</text>
<text x="266.5" y="220.4" font-size="9.1" font-weight="bold" font-style="normal" text-anchor="end" fill="#000" stroke="#000" stroke-width="0.45" >300</text>
<line x1="322.5" y1="335" x2="322.5" y2="340" stroke="#111" stroke-width="1.5"/>
<line x1="398.75" y1="335" x2="398.75" y2="340" stroke="#111" stroke-width="1.5"/>
<text x="322.5" y="349" font-size="9.6" font-weight="bold" font-style="normal" text-anchor="middle" fill="#000" stroke="#000" stroke-width="0.45" >Yes</text>
<text x="398.75" y="349" font-size="9.6" font-weight="bold" font-style="normal" text-anchor="middle" fill="#000" stroke="#000" stroke-width="0.45" >No</text>
<text x="355.9" y="362.2" font-size="9.75" font-weight="bold" font-style="normal" text-anchor="middle" fill="#000" stroke="#000" stroke-width="0.45" >Detected Lymphadenopathy</text>
<text transform="translate(248.6,272.2) rotate(-90)" font-size="10" font-weight="bold" text-anchor="middle" fill="#000" stroke="#000" stroke-width="0.45">Chest CTs per Week</text>
<text x="230.6" y="207.6" font-size="20.5" font-weight="bold" font-style="normal" text-anchor="start" fill="#000" >e</text>
<text x="364.8" y="206" font-size="12" font-weight="normal" font-style="italic" text-anchor="middle" fill="#000" stroke="#000" stroke-width="0.2" >ns</text>
<text x="338" y="221" font-size="12" font-weight="normal" fill="#000" stroke="#000" stroke-width="0.2">BF</text>
<text transform="translate(353.5,223.6) scale(0.8,1)" font-size="9.2" font-weight="normal" fill="#000" stroke="#000" stroke-width="0.2">01</text>
<text x="361.9" y="221" font-size="12" font-weight="normal" fill="#000" stroke="#000" stroke-width="0.2">=1.47</text>
<line x1="322.5" y1="312.2" x2="322.5" y2="319.7" stroke="#f82a30" stroke-width="1.3"/>
<line x1="309.8" y1="312.2" x2="335.1" y2="312.2" stroke="#f82a30" stroke-width="1.4"/>
<line x1="309.8" y1="319.7" x2="335.1" y2="319.7" stroke="#f82a30" stroke-width="1.4"/>
<line x1="297.5" y1="316" x2="348.1" y2="316" stroke="#262626" stroke-width="1.8"/>
<line x1="398.75" y1="323" x2="398.75" y2="327.3" stroke="#a3080e" stroke-width="1.3"/>
<line x1="386.4" y1="323" x2="411.3" y2="323" stroke="#a3080e" stroke-width="1.4"/>
<line x1="386.4" y1="327.3" x2="411.3" y2="327.3" stroke="#a3080e" stroke-width="1.4"/>
<line x1="373.5" y1="325.4" x2="423.6" y2="325.4" stroke="#262626" stroke-width="1.8"/>
<circle cx="322.5" cy="236.25" r="1.8" fill="#f82a30"/>
<circle cx="322.5" cy="256.25" r="1.8" fill="#f82a30"/>
<circle cx="322.5" cy="275.75" r="1.8" fill="#f82a30"/>
<circle cx="322.5" cy="287.75" r="1.8" fill="#f82a30"/>
<circle cx="315.6" cy="295.5" r="1.8" fill="#f82a30"/>
<circle cx="322.4" cy="295.5" r="1.8" fill="#f82a30"/>
<circle cx="329.4" cy="295.5" r="1.8" fill="#f82a30"/>
<circle cx="322.4" cy="303.4" r="1.8" fill="#f82a30"/>
<circle cx="329.4" cy="311.2" r="1.8" fill="#f82a30"/>
<circle cx="315.6" cy="315" r="1.8" fill="#f82a30"/>
<circle cx="322.4" cy="313.3" r="1.8" fill="#f82a30"/>
<circle cx="329.4" cy="315" r="1.8" fill="#f82a30"/>
<circle cx="315.6" cy="319" r="1.8" fill="#f82a30"/>
<circle cx="322.4" cy="319" r="1.8" fill="#f82a30"/>
<circle cx="329.4" cy="319" r="1.8" fill="#f82a30"/>
<circle cx="309.4" cy="323.1" r="1.8" fill="#f82a30"/>
<circle cx="314.6" cy="326.7" r="1.8" fill="#f82a30"/>
<circle cx="319.8" cy="326.7" r="1.8" fill="#f82a30"/>
<circle cx="325.3" cy="326.7" r="1.8" fill="#f82a30"/>
<circle cx="330.4" cy="326.7" r="1.8" fill="#f82a30"/>
<circle cx="335.8" cy="325.2" r="1.8" fill="#f82a30"/>
<circle cx="304.1" cy="331" r="1.8" fill="#f82a30"/>
<circle cx="309.4" cy="331" r="1.8" fill="#f82a30"/>
<circle cx="314.6" cy="331" r="1.8" fill="#f82a30"/>
<circle cx="319.8" cy="330.6" r="1.8" fill="#f82a30"/>
<circle cx="325.3" cy="331" r="1.8" fill="#f82a30"/>
<circle cx="330.4" cy="330.6" r="1.8" fill="#f82a30"/>
<circle cx="335.8" cy="330.1" r="1.8" fill="#f82a30"/>
<circle cx="346.1" cy="329" r="1.8" fill="#f82a30"/>
<circle cx="298.9" cy="334.9" r="1.8" fill="#f82a30"/>
<circle cx="319.8" cy="334.9" r="1.8" fill="#f82a30"/>
<circle cx="330.4" cy="334.9" r="1.8" fill="#f82a30"/>
<circle cx="335.8" cy="334" r="1.8" fill="#f82a30"/>
<circle cx="340.9" cy="334.9" r="1.8" fill="#f82a30"/>
<circle cx="346.1" cy="333.1" r="1.8" fill="#f82a30"/>
<circle cx="395.4" cy="311.1" r="1.8" fill="#a3080e"/>
<circle cx="402.2" cy="311.1" r="1.8" fill="#a3080e"/>
<circle cx="398.6" cy="315.3" r="1.8" fill="#a3080e"/>
<circle cx="405.5" cy="319.1" r="1.8" fill="#a3080e"/>
<circle cx="398.6" cy="321" r="1.8" fill="#a3080e"/>
<circle cx="391.9" cy="323.2" r="1.8" fill="#a3080e"/>
<circle cx="405.5" cy="323.2" r="1.8" fill="#a3080e"/>
<circle cx="385" cy="330.8" r="1.8" fill="#a3080e"/>
<circle cx="385" cy="335.2" r="1.8" fill="#a3080e"/>
<circle cx="391.9" cy="332.6" r="1.8" fill="#a3080e"/>
<circle cx="398.6" cy="333.3" r="1.8" fill="#a3080e"/>
<circle cx="405.5" cy="332.6" r="1.8" fill="#a3080e"/>
<circle cx="412.6" cy="330.8" r="1.8" fill="#a3080e"/>
<circle cx="412.6" cy="335.2" r="1.8" fill="#a3080e"/>
<line x1="508.1" y1="218.7" x2="508.1" y2="336.15" stroke="#1e1e1e" stroke-width="1.6"/>
<line x1="507.3" y1="335.4" x2="684" y2="335.4" stroke="#1e1e1e" stroke-width="1.6"/>
<line x1="503.3" y1="335.4" x2="508.1" y2="335.4" stroke="#1e1e1e" stroke-width="1.25"/>
<line x1="505.4" y1="333.07" x2="508.1" y2="333.07" stroke="#1e1e1e" stroke-width="1.0"/>
<line x1="505.4" y1="330.73" x2="508.1" y2="330.73" stroke="#1e1e1e" stroke-width="1.0"/>
<line x1="505.4" y1="328.4" x2="508.1" y2="328.4" stroke="#1e1e1e" stroke-width="1.0"/>
<line x1="505.4" y1="326.06" x2="508.1" y2="326.06" stroke="#1e1e1e" stroke-width="1.0"/>
<line x1="505.4" y1="323.73" x2="508.1" y2="323.73" stroke="#1e1e1e" stroke-width="1.0"/>
<line x1="505.4" y1="321.4" x2="508.1" y2="321.4" stroke="#1e1e1e" stroke-width="1.0"/>
<line x1="505.4" y1="319.06" x2="508.1" y2="319.06" stroke="#1e1e1e" stroke-width="1.0"/>
<line x1="505.4" y1="316.73" x2="508.1" y2="316.73" stroke="#1e1e1e" stroke-width="1.0"/>
<line x1="505.4" y1="314.39" x2="508.1" y2="314.39" stroke="#1e1e1e" stroke-width="1.0"/>
<line x1="503.3" y1="312.06" x2="508.1" y2="312.06" stroke="#1e1e1e" stroke-width="1.25"/>
<line x1="505.4" y1="309.73" x2="508.1" y2="309.73" stroke="#1e1e1e" stroke-width="1.0"/>
<line x1="505.4" y1="307.39" x2="508.1" y2="307.39" stroke="#1e1e1e" stroke-width="1.0"/>
<line x1="505.4" y1="305.06" x2="508.1" y2="305.06" stroke="#1e1e1e" stroke-width="1.0"/>
<line x1="505.4" y1="302.72" x2="508.1" y2="302.72" stroke="#1e1e1e" stroke-width="1.0"/>
<line x1="505.4" y1="300.39" x2="508.1" y2="300.39" stroke="#1e1e1e" stroke-width="1.0"/>
<line x1="505.4" y1="298.06" x2="508.1" y2="298.06" stroke="#1e1e1e" stroke-width="1.0"/>
<line x1="505.4" y1="295.72" x2="508.1" y2="295.72" stroke="#1e1e1e" stroke-width="1.0"/>
<line x1="505.4" y1="293.39" x2="508.1" y2="293.39" stroke="#1e1e1e" stroke-width="1.0"/>
<line x1="505.4" y1="291.05" x2="508.1" y2="291.05" stroke="#1e1e1e" stroke-width="1.0"/>
<line x1="503.3" y1="288.72" x2="508.1" y2="288.72" stroke="#1e1e1e" stroke-width="1.25"/>
<line x1="505.4" y1="286.39" x2="508.1" y2="286.39" stroke="#1e1e1e" stroke-width="1.0"/>
<line x1="505.4" y1="284.05" x2="508.1" y2="284.05" stroke="#1e1e1e" stroke-width="1.0"/>
<line x1="505.4" y1="281.72" x2="508.1" y2="281.72" stroke="#1e1e1e" stroke-width="1.0"/>
<line x1="505.4" y1="279.38" x2="508.1" y2="279.38" stroke="#1e1e1e" stroke-width="1.0"/>
<line x1="505.4" y1="277.05" x2="508.1" y2="277.05" stroke="#1e1e1e" stroke-width="1.0"/>
<line x1="505.4" y1="274.72" x2="508.1" y2="274.72" stroke="#1e1e1e" stroke-width="1.0"/>
<line x1="505.4" y1="272.38" x2="508.1" y2="272.38" stroke="#1e1e1e" stroke-width="1.0"/>
<line x1="505.4" y1="270.05" x2="508.1" y2="270.05" stroke="#1e1e1e" stroke-width="1.0"/>
<line x1="505.4" y1="267.71" x2="508.1" y2="267.71" stroke="#1e1e1e" stroke-width="1.0"/>
<line x1="503.3" y1="265.38" x2="508.1" y2="265.38" stroke="#1e1e1e" stroke-width="1.25"/>
<line x1="505.4" y1="263.05" x2="508.1" y2="263.05" stroke="#1e1e1e" stroke-width="1.0"/>
<line x1="505.4" y1="260.71" x2="508.1" y2="260.71" stroke="#1e1e1e" stroke-width="1.0"/>
<line x1="505.4" y1="258.38" x2="508.1" y2="258.38" stroke="#1e1e1e" stroke-width="1.0"/>
<line x1="505.4" y1="256.04" x2="508.1" y2="256.04" stroke="#1e1e1e" stroke-width="1.0"/>
<line x1="505.4" y1="253.71" x2="508.1" y2="253.71" stroke="#1e1e1e" stroke-width="1.0"/>
<line x1="505.4" y1="251.38" x2="508.1" y2="251.38" stroke="#1e1e1e" stroke-width="1.0"/>
<line x1="505.4" y1="249.04" x2="508.1" y2="249.04" stroke="#1e1e1e" stroke-width="1.0"/>
<line x1="505.4" y1="246.71" x2="508.1" y2="246.71" stroke="#1e1e1e" stroke-width="1.0"/>
<line x1="505.4" y1="244.37" x2="508.1" y2="244.37" stroke="#1e1e1e" stroke-width="1.0"/>
<line x1="503.3" y1="242.04" x2="508.1" y2="242.04" stroke="#1e1e1e" stroke-width="1.25"/>
<line x1="505.4" y1="239.71" x2="508.1" y2="239.71" stroke="#1e1e1e" stroke-width="1.0"/>
<line x1="505.4" y1="237.37" x2="508.1" y2="237.37" stroke="#1e1e1e" stroke-width="1.0"/>
<line x1="505.4" y1="235.04" x2="508.1" y2="235.04" stroke="#1e1e1e" stroke-width="1.0"/>
<line x1="505.4" y1="232.7" x2="508.1" y2="232.7" stroke="#1e1e1e" stroke-width="1.0"/>
<line x1="505.4" y1="230.37" x2="508.1" y2="230.37" stroke="#1e1e1e" stroke-width="1.0"/>
<line x1="505.4" y1="228.04" x2="508.1" y2="228.04" stroke="#1e1e1e" stroke-width="1.0"/>
<line x1="505.4" y1="225.7" x2="508.1" y2="225.7" stroke="#1e1e1e" stroke-width="1.0"/>
<line x1="505.4" y1="223.37" x2="508.1" y2="223.37" stroke="#1e1e1e" stroke-width="1.0"/>
<line x1="505.4" y1="221.03" x2="508.1" y2="221.03" stroke="#1e1e1e" stroke-width="1.0"/>
<line x1="503.3" y1="218.7" x2="508.1" y2="218.7" stroke="#1e1e1e" stroke-width="1.25"/>
<text x="502.9" y="339.3" font-size="9.1" font-weight="bold" font-style="normal" text-anchor="end" fill="#000" stroke="#000" stroke-width="0.45" >0.0</text>
<text x="502.9" y="315.96" font-size="9.1" font-weight="bold" font-style="normal" text-anchor="end" fill="#000" stroke="#000" stroke-width="0.45" >0.2</text>
<text x="502.9" y="292.62" font-size="9.1" font-weight="bold" font-style="normal" text-anchor="end" fill="#000" stroke="#000" stroke-width="0.45" >0.4</text>
<text x="502.9" y="269.28" font-size="9.1" font-weight="bold" font-style="normal" text-anchor="end" fill="#000" stroke="#000" stroke-width="0.45" >0.6</text>
<text x="502.9" y="245.94" font-size="9.1" font-weight="bold" font-style="normal" text-anchor="end" fill="#000" stroke="#000" stroke-width="0.45" >0.8</text>
<text x="502.9" y="222.6" font-size="9.1" font-weight="bold" font-style="normal" text-anchor="end" fill="#000" stroke="#000" stroke-width="0.45" >1.0</text>
<line x1="558.25" y1="335.4" x2="558.25" y2="340.4" stroke="#111" stroke-width="1.5"/>
<line x1="633.25" y1="335.4" x2="633.25" y2="340.4" stroke="#111" stroke-width="1.5"/>
<text x="558.25" y="349" font-size="9.6" font-weight="bold" font-style="normal" text-anchor="middle" fill="#000" stroke="#000" stroke-width="0.45" >Yes</text>
<text x="633.25" y="349" font-size="9.6" font-weight="bold" font-style="normal" text-anchor="middle" fill="#000" stroke="#000" stroke-width="0.45" >No</text>
<text x="591" y="362.2" font-size="9.75" font-weight="bold" font-style="normal" text-anchor="middle" fill="#000" stroke="#000" stroke-width="0.45" >Detected Lymphadenopathy</text>
<text transform="translate(487.6,274.2) rotate(-90)" font-size="9.6" font-weight="bold" text-anchor="middle" fill="#000" stroke="#000" stroke-width="0.45">Sensitivity (% nodules found)</text>
<text x="466.5" y="207" font-size="20" font-weight="bold" font-style="normal" text-anchor="start" fill="#000" >f</text>
<text x="593.5" y="205" font-size="12" font-weight="normal" font-style="italic" text-anchor="middle" fill="#000" stroke="#000" stroke-width="0.2" >ns</text>
<text x="567" y="220" font-size="12" font-weight="normal" fill="#000" stroke="#000" stroke-width="0.2">BF</text>
<text transform="translate(582.5,222.6) scale(0.8,1)" font-size="9.2" font-weight="normal" fill="#000" stroke="#000" stroke-width="0.2">01</text>
<text x="590.9" y="220" font-size="12" font-weight="normal" fill="#000" stroke="#000" stroke-width="0.2">=2.11</text>
<line x1="558.25" y1="261.2" x2="558.25" y2="269.1" stroke="#f82a30" stroke-width="1.3"/>
<line x1="545" y1="261.2" x2="571" y2="261.2" stroke="#f82a30" stroke-width="1.4"/>
<line x1="545" y1="269.1" x2="571" y2="269.1" stroke="#f82a30" stroke-width="1.4"/>
<line x1="533.3" y1="265.1" x2="583" y2="265.1" stroke="#262626" stroke-width="1.8"/>
<line x1="633.25" y1="267.1" x2="633.25" y2="277.3" stroke="#a3080e" stroke-width="1.3"/>
<line x1="621.1" y1="267.1" x2="645.7" y2="267.1" stroke="#a3080e" stroke-width="1.4"/>
<line x1="621.1" y1="277.3" x2="645.7" y2="277.3" stroke="#a3080e" stroke-width="1.4"/>
<line x1="608" y1="272.2" x2="658" y2="272.2" stroke="#262626" stroke-width="1.8"/>
<circle cx="554.9" cy="239.4" r="1.8" fill="#f82a30"/>
<circle cx="561.5" cy="238.5" r="1.8" fill="#f82a30"/>
<circle cx="537.7" cy="243.5" r="1.8" fill="#f82a30"/>
<circle cx="537.7" cy="248.1" r="1.8" fill="#f82a30"/>
<circle cx="537.7" cy="252.3" r="1.8" fill="#f82a30"/>
<circle cx="544.4" cy="249.8" r="1.8" fill="#f82a30"/>
<circle cx="551.5" cy="246.7" r="1.8" fill="#f82a30"/>
<circle cx="551.5" cy="250.6" r="1.8" fill="#f82a30"/>
<circle cx="558.2" cy="245.4" r="1.8" fill="#f82a30"/>
<circle cx="558.2" cy="250.3" r="1.8" fill="#f82a30"/>
<circle cx="564.8" cy="247.9" r="1.8" fill="#f82a30"/>
<circle cx="564.8" cy="253" r="1.8" fill="#f82a30"/>
<circle cx="571.5" cy="246.8" r="1.8" fill="#f82a30"/>
<circle cx="571.5" cy="250.3" r="1.8" fill="#f82a30"/>
<circle cx="578.3" cy="247.3" r="1.8" fill="#f82a30"/>
<circle cx="578.3" cy="252.2" r="1.8" fill="#f82a30"/>
<circle cx="551.5" cy="257.2" r="1.8" fill="#f82a30"/>
<circle cx="564.8" cy="258.3" r="1.8" fill="#f82a30"/>
<circle cx="544.4" cy="259.9" r="1.8" fill="#f82a30"/>
<circle cx="558.2" cy="259.6" r="1.8" fill="#f82a30"/>
<circle cx="571.5" cy="259.9" r="1.8" fill="#f82a30"/>
<circle cx="558.2" cy="264.5" r="1.8" fill="#f82a30"/>
<circle cx="554.9" cy="269.1" r="1.8" fill="#f82a30"/>
<circle cx="561.5" cy="269.8" r="1.8" fill="#f82a30"/>
<circle cx="568.3" cy="269.4" r="1.8" fill="#f82a30"/>
<circle cx="548" cy="272.2" r="1.8" fill="#f82a30"/>
<circle cx="561.6" cy="281.8" r="1.8" fill="#f82a30"/>
<circle cx="554.8" cy="285.2" r="1.8" fill="#f82a30"/>
<circle cx="558.2" cy="290.3" r="1.8" fill="#f82a30"/>
<circle cx="554.8" cy="294.5" r="1.8" fill="#f82a30"/>
<circle cx="561.6" cy="294.5" r="1.8" fill="#f82a30"/>
<circle cx="558.2" cy="298.2" r="1.8" fill="#f82a30"/>
<circle cx="558.2" cy="304.1" r="1.8" fill="#f82a30"/>
<circle cx="558.2" cy="313.7" r="1.8" fill="#f82a30"/>
<circle cx="558.2" cy="319" r="1.8" fill="#f82a30"/>
<circle cx="633.3" cy="241.8" r="1.8" fill="#a3080e"/>
<circle cx="633.3" cy="250.3" r="1.8" fill="#a3080e"/>
<circle cx="633.3" cy="255.5" r="1.8" fill="#a3080e"/>
<circle cx="622.8" cy="259.2" r="1.8" fill="#a3080e"/>
<circle cx="636.4" cy="260" r="1.8" fill="#a3080e"/>
<circle cx="643.5" cy="259.2" r="1.8" fill="#a3080e"/>
<circle cx="629.6" cy="262.6" r="1.8" fill="#a3080e"/>
<circle cx="633.3" cy="267.8" r="1.8" fill="#a3080e"/>
<circle cx="633.3" cy="274.6" r="1.8" fill="#a3080e"/>
<circle cx="640.2" cy="275.3" r="1.8" fill="#a3080e"/>
<circle cx="626.2" cy="277.3" r="1.8" fill="#a3080e"/>
<circle cx="633.3" cy="283.8" r="1.8" fill="#a3080e"/>
<circle cx="633.25" cy="303.5" r="1.8" fill="#a3080e"/>
<circle cx="629.75" cy="307" r="1.8" fill="#a3080e"/>
<circle cx="636.5" cy="307" r="1.8" fill="#a3080e"/>
<text transform="translate(16.8,211.8) rotate(-90)" font-size="9" font-weight="bold" text-anchor="middle" fill="#3d4b70">e</text>
</svg></body></html>
